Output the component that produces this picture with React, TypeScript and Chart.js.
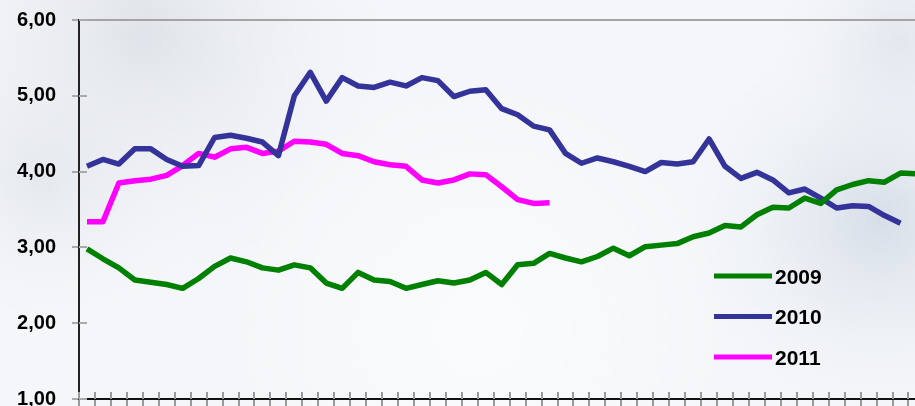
import React, { useEffect, useRef } from "react";
import { Chart, registerables } from "chart.js";

Chart.register(...registerables);

// ---- data ----
const weeks = [
  1, 2, 3, 4, 5, 6, 7, 8, 9, 10, 11, 12, 13, 14, 15, 16, 17, 18, 19, 20, 21, 22, 23, 24, 25, 26, 27,
  28, 29, 30, 31, 32, 33, 34, 35, 36, 37, 38, 39, 40, 41, 42, 43, 44, 45, 46, 47, 48, 49, 50, 51, 52, 53,
];

const series2009 = [
  2.98, 2.85, 2.73, 2.57, 2.54, 2.51, 2.46, 2.59, 2.75, 2.86, 2.81, 2.73, 2.7, 2.77, 2.73, 2.53, 2.46, 2.67,
  2.57, 2.55, 2.46, 2.51, 2.56, 2.53, 2.57, 2.67, 2.51, 2.77, 2.79, 2.92, 2.86, 2.81, 2.88, 2.99, 2.89, 3.01,
  3.03, 3.05, 3.14, 3.19, 3.29, 3.27, 3.43, 3.53, 3.52, 3.65, 3.58, 3.76, 3.83, 3.88, 3.86, 3.98, 3.97,
];

const series2010 = [
  4.07, 4.16, 4.1, 4.3, 4.3, 4.16, 4.07, 4.08, 4.45, 4.48, 4.44, 4.39, 4.21, 5.0, 5.31, 4.93, 5.24, 5.13,
  5.11, 5.18, 5.13, 5.24, 5.2, 4.99, 5.06, 5.08, 4.83, 4.75, 4.6, 4.55, 4.24, 4.11, 4.18, 4.13, 4.07, 4.0,
  4.12, 4.1, 4.13, 4.43, 4.07, 3.91, 3.99, 3.89, 3.72, 3.77, 3.65, 3.52, 3.55, 3.54, 3.42, 3.32,
];

const series2011 = [
  3.34, 3.34, 3.85, 3.88, 3.9, 3.95, 4.08, 4.24, 4.19, 4.3, 4.32, 4.24, 4.27, 4.4, 4.39, 4.36, 4.24, 4.21,
  4.13, 4.09, 4.07, 3.89, 3.85, 3.89, 3.97, 3.96, 3.8, 3.63, 3.58, 3.59,
];

const seriesLabels = ["2009", "2010", "2011"];
const seriesColors = ["#008000", "#333399", "#ff00ff"];
const yTickValues = [1, 2, 3, 4, 5, 6];

const FONT = "'Liberation Sans', Arial, sans-serif";

function toPoints(values: number[]) {
  return values.map((v, i) => ({ x: weeks[i], y: v }));
}

const backgroundPlugin = {
  id: "cloudBg",
  beforeDraw(chart: any) {
    const { ctx, width, height } = chart;
    ctx.save();
    ctx.fillStyle = "#f4f6f9";
    ctx.fillRect(0, 0, width, height);
    const blobs: [number, number, number, string][] = [
      [140, 40, 320, "rgba(205,210,218,0.55)"],
      [40, 180, 200, "rgba(215,220,228,0.45)"],
      [880, 220, 240, "rgba(190,202,218,0.55)"],
      [900, 40, 160, "rgba(200,208,222,0.4)"],
      [480, 330, 260, "rgba(255,255,255,0.6)"],
    ];
    blobs.forEach(([x, y, r, c]) => {
      const g = ctx.createRadialGradient(x, y, 0, x, y, r);
      g.addColorStop(0, c);
      g.addColorStop(1, "rgba(255,255,255,0)");
      ctx.fillStyle = g;
      ctx.fillRect(0, 0, width, height);
    });
    ctx.restore();
  },
};

const axisDecorPlugin = {
  id: "axisDecor",
  beforeDatasetsDraw(chart: any) {
    const { ctx, chartArea, scales } = chart;
    ctx.save();
    // top border
    ctx.strokeStyle = "#a4a4a4";
    ctx.lineWidth = 2;
    ctx.beginPath();
    ctx.moveTo(chartArea.left, chartArea.top);
    ctx.lineTo(chartArea.right, chartArea.top);
    ctx.stroke();
    // x ticks crossing above the axis
    ctx.strokeStyle = "#9a9a9a";
    ctx.lineWidth = 2;
    scales.x.ticks.forEach((t: any) => {
      const px = Math.round(scales.x.getPixelForValue(t.value));
      ctx.beginPath();
      ctx.moveTo(px, chartArea.bottom);
      ctx.lineTo(px, chartArea.bottom - 7);
      ctx.stroke();
    });
    // y ticks crossing right of the axis
    ctx.strokeStyle = "#aaaaaa";
    scales.y.ticks.forEach((t: any) => {
      const py = Math.round(scales.y.getPixelForValue(t.value));
      ctx.beginPath();
      ctx.moveTo(chartArea.left, py);
      ctx.lineTo(chartArea.left + 8, py);
      ctx.stroke();
    });
    ctx.restore();
  },
};

const legendPlugin = {
  id: "innerLegend",
  afterDraw(chart: any) {
    const { ctx, chartArea } = chart;
    ctx.save();
    const x0 = chartArea.left + 635;
    const y0 = chartArea.top + 256;
    ctx.font = `bold 21px ${FONT}`;
    ctx.textBaseline = "middle";
    ctx.textAlign = "left";
    seriesLabels.forEach((label, i) => {
      const y = y0 + i * 40.5;
      ctx.strokeStyle = seriesColors[i];
      ctx.lineWidth = 5;
      ctx.beginPath();
      ctx.moveTo(x0, y);
      ctx.lineTo(x0 + 58, y);
      ctx.stroke();
      ctx.fillStyle = "#000";
      ctx.fillText(label, x0 + 61, y + 2);
    });
    ctx.restore();
  },
};

export default function App() {
  const canvasRef = useRef<HTMLCanvasElement | null>(null);

  useEffect(() => {
    if (!canvasRef.current) return;
    const allSeries = [series2009, series2010, series2011];
    const chart = new Chart(canvasRef.current, {
      type: "line",
      data: {
        datasets: allSeries.map((s, i) => ({
          label: seriesLabels[i],
          data: toPoints(s),
          borderColor: seriesColors[i],
          backgroundColor: seriesColors[i],
          borderWidth: 5.5,
          pointRadius: 0,
          tension: 0,
          borderJoinStyle: "round" as const,
          fill: false,
        })),
      },
      options: {
        animation: false,
        responsive: false,
        devicePixelRatio: 1,
        layout: { padding: { top: 20, right: 0, bottom: 0, left: 0 } },
        plugins: {
          legend: { display: false },
          tooltip: { enabled: false },
        },
        scales: {
          x: {
            type: "linear",
            min: 0.5,
            max: 52.91,
            afterBuildTicks: (scale: any) => {
              scale.ticks = weeks.map((w) => ({ value: w - 0.5 }));
            },
            afterFit: (scale: any) => {
              scale.height = 7;
              scale.paddingLeft = 0;
              scale.paddingRight = 0;
            },
            ticks: { display: false },
            grid: {
              display: true,
              drawOnChartArea: false,
              drawTicks: true,
              tickLength: 7,
              color: "#9a9a9a",
              lineWidth: 2,
            },
            border: { display: true, color: "#111", width: 2 },
          },
          y: {
            type: "linear",
            min: 1,
            max: 6,
            afterBuildTicks: (scale: any) => {
              scale.ticks = yTickValues.map((v) => ({ value: v }));
            },
            afterFit: (scale: any) => {
              scale.width = 79;
              scale.paddingTop = 0;
              scale.paddingBottom = 0;
            },
            ticks: {
              padding: 16,
              color: "#000",
              font: { family: FONT, size: 20, weight: "bold" },
              callback: (v: any) => Number(v).toFixed(2).replace(".", ","),
            },
            grid: {
              display: true,
              drawOnChartArea: false,
              drawTicks: true,
              tickLength: 7,
              color: "#aaaaaa",
              lineWidth: 2,
            },
            border: { display: true, color: "#222", width: 2 },
          },
        },
      },
      plugins: [backgroundPlugin, axisDecorPlugin, legendPlugin],
    } as any);
    return () => chart.destroy();
  }, []);

  return (
    <div style={{ position: "fixed", left: 0, top: 0, width: 915, height: 406, overflow: "hidden" }}>
      <canvas ref={canvasRef} width={915} height={406} style={{ display: "block", width: 915, height: 406 }} />
    </div>
  );
}
